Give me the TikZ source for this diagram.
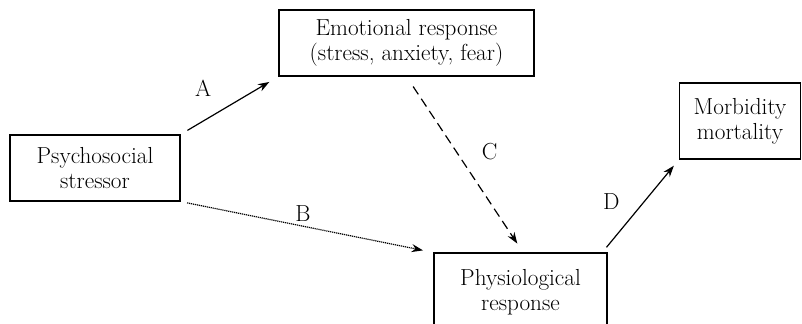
\documentclass[tikz,border=0pt]{standalone}
\usetikzlibrary{arrows.meta}

\tikzset{
    box/.style={draw, line width=0.8pt, align=center, inner sep=0pt,
        font=\fontsize{17.4pt}{19pt}\selectfont},
    lab/.style={font=\fontsize{17.4pt}{19pt}\selectfont},
    >={Stealth[length=8.5pt,width=6pt]}
}

\begin{document}
\begin{tikzpicture}[x=0.75pt, y=-0.75pt]
    \useasboundingbox (0,0) rectangle (802,324);
    \clip (0,0) rectangle (802,324);

    % Boxes
    \node[box, minimum width=127.5pt, minimum height=49.5pt] (stressor) at (95,168) {Psychosocial\\stressor};
    \node[box, minimum width=191.25pt, minimum height=49.5pt] (emotion) at (406.5,43) {Emotional response\\(stress, anxiety, fear)};
    \node[box, minimum width=129.75pt, minimum height=59.25pt] (physio) at (520.5,292.5) {Physiological\\response};
    \node[box, minimum width=90.75pt, minimum height=57pt] (morbid) at (740,121) {Morbidity\\mortality};

    % Path A (stressor to emotion)
    \draw[->, line width=0.9pt, shorten <=6pt, shorten >=8pt] (stressor.north east) -- (emotion.south west)
        node[lab, midway, above left=3pt, xshift=-7pt] {A};

    % Path B (direct, dotted)
    \draw[->, line width=0.9pt, dash pattern=on 0.9pt off 0.6pt, shorten <=5pt, shorten >=8pt] (stressor.south east) -- (physio.north west)
        node[lab, midway, above=0pt, xshift=-3pt] {B};

    % Path C (emotion to physiology, dashed)
    \draw[->, line width=0.9pt, dash pattern=on 7pt off 4pt, shorten <=9pt, shorten >=8pt] (emotion.south) -- ([xshift=2pt]physio.north)
        node[lab, midway, above right=3pt, xshift=6pt, yshift=-3pt] {C};

    % Path D (physiology to outcome)
    \draw[->, line width=0.9pt, shorten <=5pt, shorten >=6pt] ([xshift=-4pt]physio.north east) -- (morbid.south west)
        node[lab, midway, left=12pt, yshift=3pt] {D};
\end{tikzpicture}
\end{document}
